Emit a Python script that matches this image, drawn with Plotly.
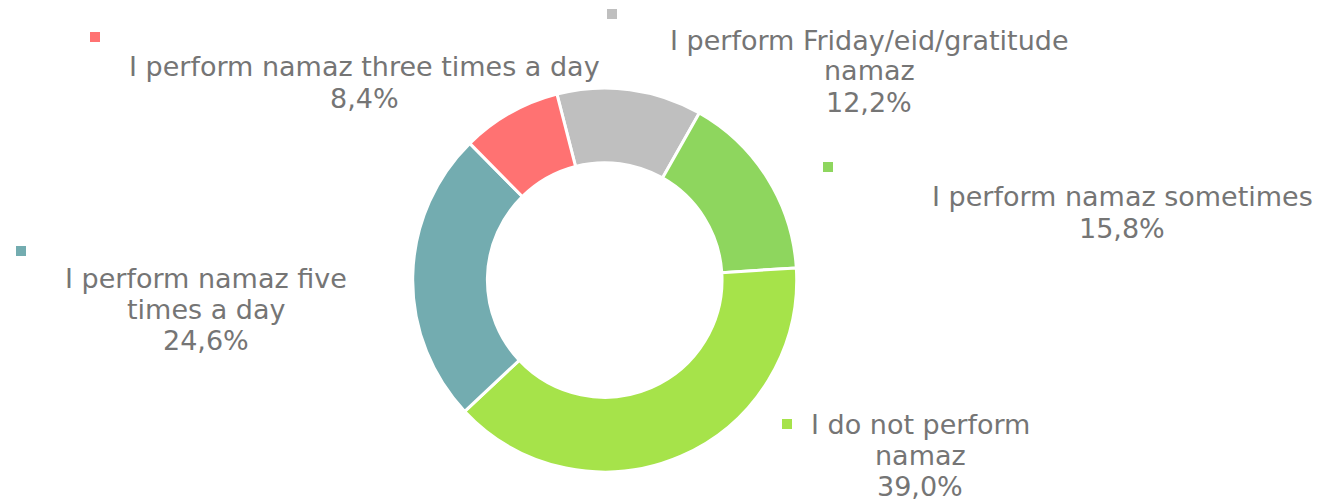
import plotly.graph_objects as go

labels = ["I perform Friday/eid/gratitude namaz", "I perform namaz sometimes",
          "I do not perform namaz", "I perform namaz five times a day",
          "I perform namaz three times a day"]
values = [12.2, 15.8, 39.0, 24.6, 8.4]
value_text = ["12,2%", "15,8%", "39,0%", "24,6%", "8,4%"]
colors = ["#BFBFBF", "#8ED65E", "#A6E34A", "#73ACB0", "#FF7272"]
label_lines = [
    ["I perform Friday/eid/gratitude", "namaz"],
    ["I perform namaz sometimes"],
    ["I do not perform", "namaz"],
    ["I perform namaz five", "times a day"],
    ["I perform namaz three times a day"],
]

W, H = 1319, 501
# label block layout (pixels): text center x, first line center y, key square center
label_pos = [
    (869, 40, 612, 14),
    (1122, 197, 828, 167),
    (920, 424, 787, 424),
    (206, 278, 21, 251),
    (365, 67, 95, 37),
]
LINE = 31
text_color = "#757575"
FONT = "DejaVu Sans, Verdana, sans-serif"

fig = go.Figure(go.Pie(
    labels=labels, values=values, sort=False, direction="clockwise",
    rotation=-14.4, hole=0.611,
    marker=dict(colors=colors, line=dict(color="white", width=3)),
    textinfo="none", hoverinfo="label+percent", showlegend=False,
    domain=dict(x=[412.7 / W, 796.7 / W], y=[(H - 472) / H, (H - 88) / H]),
))

annotations = []
shapes = []
for i, (tx, ty, kx, ky) in enumerate(label_pos):
    lines = label_lines[i] + [value_text[i]]
    for j, ln in enumerate(lines):
        annotations.append(dict(
            x=tx / W, y=1 - (ty + j * LINE) / H, xref="paper", yref="paper",
            text=ln, showarrow=False, xanchor="center", yanchor="middle",
            font=dict(family=FONT, size=27, color=text_color),
        ))
    s = 5
    shapes.append(dict(
        type="rect", xref="paper", yref="paper",
        x0=(kx - s) / W, x1=(kx + s) / W, y0=1 - (ky + s) / H, y1=1 - (ky - s) / H,
        fillcolor=colors[i], line=dict(width=0),
    ))

fig.update_layout(
    width=W, height=H, margin=dict(l=0, r=0, t=0, b=0),
    paper_bgcolor="white", plot_bgcolor="white",
    annotations=annotations, shapes=shapes,
)
fig.write_html(
    "out.html",
    config={"displayModeBar": False},
    post_script="document.body.style.margin='0';document.body.style.overflow='hidden';",
)
